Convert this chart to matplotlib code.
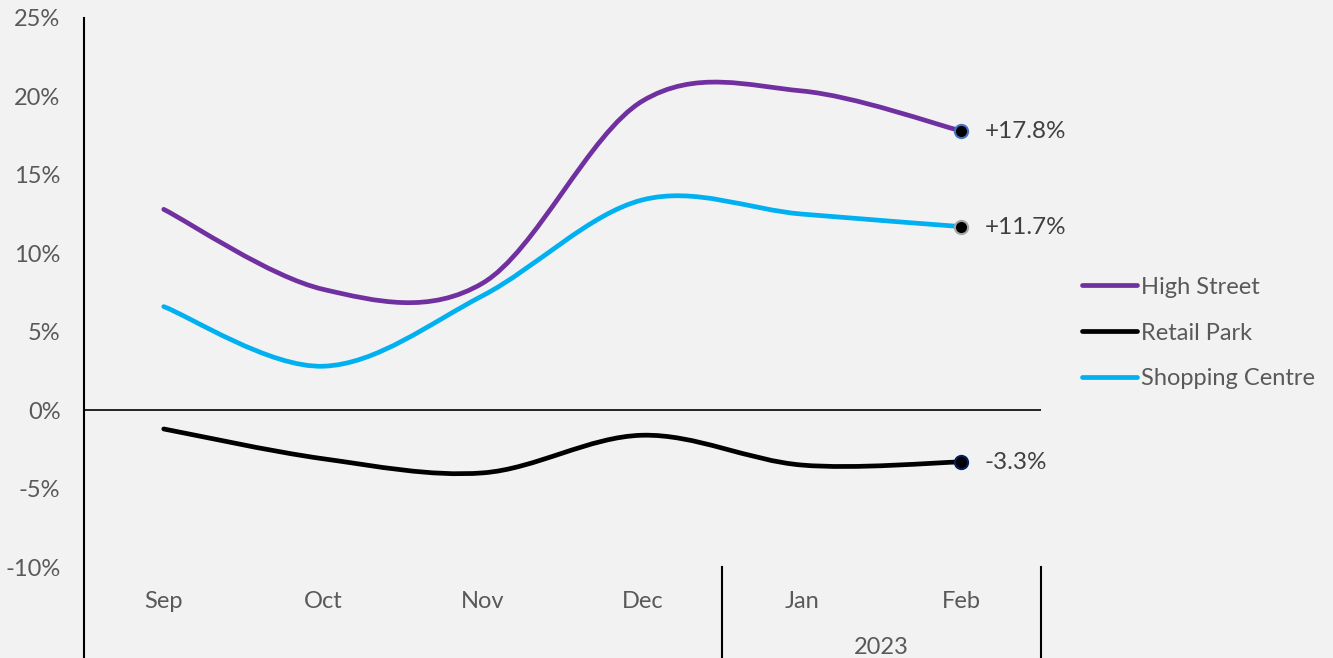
import matplotlib.pyplot as plt
import numpy as np
from matplotlib.path import Path
from matplotlib.patches import PathPatch
from matplotlib.lines import Line2D
import matplotlib.transforms as mtransforms

plt.rcParams['font.family'] = ['Lato', 'DejaVu Sans']

# data
months = ['Sep', 'Oct', 'Nov', 'Dec', 'Jan', 'Feb']
year_label = '2023'
high_street = [12.8, 7.7, 8.1, 19.7, 20.35, 17.8]
retail_park = [-1.2, -3.1, -4.0, -1.6, -3.5, -3.3]
shopping_centre = [6.6, 2.8, 7.3, 13.4, 12.5, 11.7]
series_names = ['High Street', 'Retail Park', 'Shopping Centre']
series_values = [high_street, retail_park, shopping_centre]
end_labels = ['+17.8%', '-3.3%', '+11.7%']
yticks = [-10, -5, 0, 5, 10, 15, 20, 25]

colors = ['#7030a0', '#000000', '#00b0f0']
marker_edges = ['#4472c4', '#002060', '#a5a5a5']
text_col = '#595959'
bg = '#f2f2f2'


def smooth_path(x, y):
    # excel-like smoothed line as cubic bezier segments
    pts = np.column_stack([x, y]).astype(float)
    n = len(pts)
    verts = [pts[0]]
    codes = [Path.MOVETO]
    for i in range(n - 1):
        p0 = pts[max(i - 1, 0)]
        p1 = pts[i]
        p2 = pts[i + 1]
        p3 = pts[min(i + 2, n - 1)]
        c1 = p1 + (p2 - p0) / 6.0
        c2 = p2 - (p3 - p1) / 6.0
        verts += [c1, c2, p2]
        codes += [Path.CURVE4] * 3
    return Path(verts, codes)


fig = plt.figure(figsize=(13.33, 6.58), dpi=100, facecolor=bg)
ax = fig.add_axes([84 / 1333, 91 / 658, 957 / 1333, 549 / 658])
ax.set_facecolor(bg)

x = np.arange(len(months))
for vals, col, mec, lab in zip(series_values, colors, marker_edges, end_labels):
    patch = PathPatch(smooth_path(x, vals), facecolor='none', edgecolor=col,
                      lw=3.4, capstyle='round', joinstyle='round', zorder=3)
    ax.add_patch(patch)
    ax.plot([x[-1]], [vals[-1]], 'o', ms=9.5, mfc='black', mec=mec, mew=1.5, zorder=4)
    ax.annotate(lab, (x[-1], vals[-1]), xytext=(17, -0.5), textcoords='offset points',
                va='center', ha='left', fontsize=17.5, color='#404040')

ax.set_xlim(-0.5, 5.5)
ax.set_ylim(-10, 25)
ax.set_yticks(yticks)
ax.set_yticklabels([f'{v}%' for v in yticks], fontsize=17, color=text_col)
ax.tick_params(axis='y', length=0, pad=17)
ax.set_xticks([])
for s in ax.spines.values():
    s.set_visible(False)

ax.axhline(0, color='black', lw=1.2, zorder=2)

# axis lines reaching below the plot area
bt = mtransforms.blended_transform_factory(ax.transData, ax.transAxes)
ax.plot([-0.5, -0.5], [-0.166, 1], color='black', lw=1.5, transform=bt, clip_on=False)
for xv in [3.5, 5.5]:
    ax.plot([xv, xv], [-0.166, 0], color='black', lw=1.5, transform=bt, clip_on=False)

for xi, m in zip(x, months):
    ax.text(xi, -0.0635, m, transform=bt, ha='center', va='center', fontsize=17, color=text_col)
ax.text(4.5, -0.146, year_label, transform=bt, ha='center', va='center', fontsize=17, color=text_col)

handles = [Line2D([0], [0], color=c, lw=3.4, solid_capstyle='round') for c in colors]
fig.legend(handles, series_names, loc='center left', bbox_to_anchor=(1082 / 1333, 1 - 333 / 658),
           frameon=False, fontsize=17, labelcolor=text_col, handlelength=2.33,
           handletextpad=0.15, labelspacing=1.05, borderpad=0, borderaxespad=0)

plt.savefig('out.png', dpi=100, facecolor=bg)
